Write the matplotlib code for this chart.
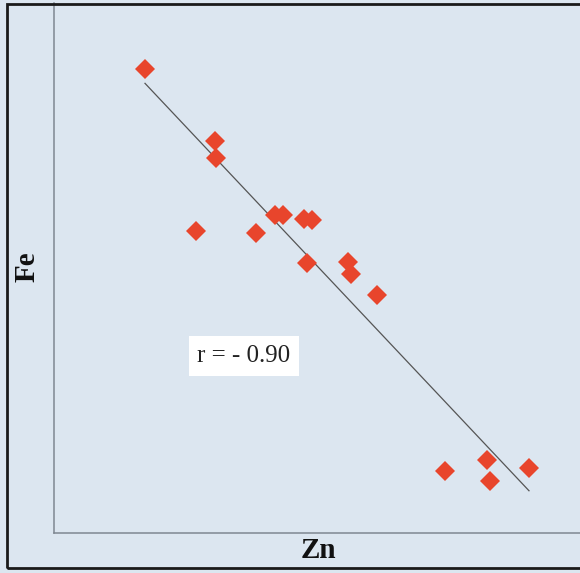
import matplotlib
matplotlib.use('Agg')
import matplotlib.pyplot as plt
from matplotlib.patches import Rectangle
import numpy as np

# Zn and Fe concentrations (arbitrary units)
zn = [18.2, 32.2, 32.4, 28.4, 40.4, 44.2, 45.8, 50.0, 51.6, 50.6,
      58.8, 59.4, 64.6, 78.2, 86.6, 87.2, 95.0]
fe = [92.8, 78.4, 75.0, 60.4, 60.0, 63.6, 63.6, 62.8, 62.6, 54.0,
      54.2, 51.8, 47.6, 12.4, 14.6, 10.4, 13.0]
r_label = 'r = - 0.90'

bg = '#dce6f0'
fig = plt.figure(figsize=(5.80, 5.73), dpi=100)
fig.patch.set_facecolor(bg)

W, H = 580, 573
ax = fig.add_axes([54 / W, (H - 533) / H, (W - 54) / W, (533 - 3) / H])
ax.set_facecolor(bg)

# Linear trend line over the range of the data
slope, intercept = np.polyfit(zn, fe, 1)
xs = np.array([min(zn), max(zn)])
ax.plot(xs, slope * xs + intercept, color='#555555', linewidth=0.9, zorder=2)

ax.plot(zn, fe, linestyle='none', marker='D', markersize=10,
        color='#e8452c', markeredgewidth=0, zorder=3)

ax.set_xlim(0, (W - 54) / 5)
ax.set_ylim(0, (533 - 3) / 5)
ax.set_xticks([])
ax.set_yticks([])
for side in ('top', 'right'):
    ax.spines[side].set_visible(False)
for side in ('left', 'bottom'):
    ax.spines[side].set_color('#7f8892')
    ax.spines[side].set_linewidth(1.1)

ax.text((244 - 54) / 5, (533 - 356) / 5, r_label, family='Liberation Serif',
        fontsize=18, ha='center', va='center', color='#222222',
        bbox=dict(boxstyle='square,pad=0.35', facecolor='white', edgecolor='none'))

fig.text(318 / W, 1 - 551 / H, 'Zn', family='Liberation Serif', fontweight='bold',
         fontsize=21, ha='center', va='center', color='#111111')
fig.text(27 / W, 1 - 267 / H, 'Fe', family='Liberation Serif', fontweight='bold',
         fontsize=21, ha='center', va='center', rotation=90, color='#111111')

# Frame around the chart (open on the right side)
fig.patches.append(Rectangle((7 / W, (H - 568) / H), 1.2, (568 - 4) / H,
                             transform=fig.transFigure, fill=False,
                             edgecolor='#1a1a1a', linewidth=2.0))

fig.savefig('out.png', dpi=100, facecolor=bg)
